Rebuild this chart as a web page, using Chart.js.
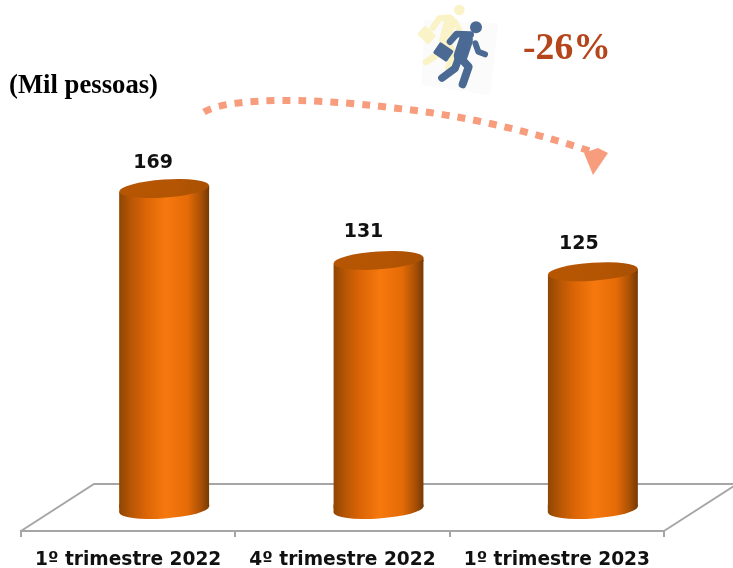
<!DOCTYPE html>
<html>
<head>
<meta charset="utf-8">
<style>html,body{margin:0;padding:0;background:#fff}canvas{display:block}</style>
<script src="https://cdn.jsdelivr.net/npm/chart.js@4"></script>
</head>
<body>
<canvas id="c" width="733" height="568"></canvas>
<script>
const categories = ['1º trimestre 2022', '4º trimestre 2022', '1º trimestre 2023'];
const values = [169, 131, 125];
const unitLabel = '(Mil pessoas)';
const changeLabel = '-26%';

const DEPTH = 0.168;            // 3D depth shift of the bars, in category units
const RX = 45, RY = 9, TILT = -0.068, BASE_DROP = 1.5;
const LABEL_DX = [-11, -15, -14], LABEL_DY = [-25.5, -28, -28];

function barGradient(ctx, x) {
  if (!Number.isFinite(x)) return '#e56b07';
  const g = ctx.createLinearGradient(x - RX, 0, x + RX, 0);
  g.addColorStop(0, '#8f4604');
  g.addColorStop(0.14, '#b95705');
  g.addColorStop(0.3, '#dc6506');
  g.addColorStop(0.52, '#f6790e');
  g.addColorStop(0.76, '#e56b07');
  g.addColorStop(0.9, '#ad5205');
  g.addColorStop(1, '#763904');
  return g;
}

function drawRunner(c) {
  c.save();
  c.translate(400, 0);
  c.scale(1 / 3, 1 / 3);
  c.lineCap = 'round';
  c.lineJoin = 'round';
  c.fillStyle = '#fbfbfb';
  c.beginPath();
  c.moveTo(72, 60); c.lineTo(295, 70); c.lineTo(270, 285); c.lineTo(65, 255);
  c.closePath(); c.fill();

  const limb = (color, w, pts) => {
    c.strokeStyle = color; c.lineWidth = w;
    c.beginPath();
    pts.forEach((p, i) => i ? c.lineTo(p[0], p[1]) : c.moveTo(p[0], p[1]));
    c.stroke();
  };
  const box = (color, x, y, w, h, a) => {
    c.save(); c.translate(x, y); c.rotate(a);
    c.fillStyle = color; c.beginPath();
    c.roundRect(-w / 2, -h / 2, w, h, 5); c.fill(); c.restore();
  };

  const pale = '#fbf3c8';
  c.fillStyle = pale;
  c.beginPath(); c.arc(178, 30, 16, 0, 7); c.fill();
  limb(pale, 36, [[150, 64], [135, 125]]);
  limb(pale, 19, [[148, 52], [118, 55], [98, 84]]);
  limb(pale, 17, [[165, 65], [178, 88]]);
  limb(pale, 20, [[130, 128], [118, 160], [78, 186]]);
  limb(pale, 20, [[138, 122], [160, 155], [145, 205]]);
  box(pale, 80, 105, 46, 36, 0.75);

  const blue = '#4a6a94';
  c.fillStyle = blue;
  c.beginPath(); c.arc(228, 82, 18, 0, 7); c.fill();
  limb(blue, 42, [[198, 120], [182, 168]]);
  limb(blue, 20, [[150, 125], [170, 102], [212, 104]]);
  limb(blue, 18, [[226, 130], [235, 155], [255, 163]]);
  limb(blue, 23, [[175, 178], [165, 205], [126, 234]]);
  limb(blue, 24, [[182, 175], [206, 200], [188, 253]]);
  box(blue, 130, 156, 50, 40, 0.6);
  c.restore();
}

function drawArrow(c) {
  const salmon = '#f79c7c';
  c.save();
  c.strokeStyle = salmon;
  c.lineWidth = 7;
  c.setLineDash([8, 8]);
  c.beginPath();
  c.moveTo(204, 112);
  c.bezierCurveTo(225, 99, 300, 96, 394, 108);
  c.quadraticCurveTo(490, 118, 590, 151);
  c.stroke();
  c.setLineDash([]);
  c.fillStyle = salmon;
  c.beginPath();
  c.moveTo(584, 153); c.lineTo(598, 148); c.lineTo(608, 153); c.lineTo(593, 175);
  c.closePath(); c.fill();
  c.restore();
}

const cylinders = {
  id: 'cylinders',
  beforeDatasetsDraw(chart) {
    const c = chart.ctx, a = chart.chartArea;
    const back = a.bottom - 47, shift = 73;
    const bars = chart.getDatasetMeta(0).data;
    const rise = RX * Math.sin(-TILT);
    // floor of the 3D chart, in front of which the bars stand
    c.save();
    c.strokeStyle = '#a6a6a6';
    c.lineWidth = 2;
    c.beginPath();
    c.moveTo(a.left, a.bottom);
    c.lineTo(a.left + shift, back);
    c.lineTo(733, back);
    c.moveTo(a.right, a.bottom);
    c.lineTo(a.right + shift, back);
    c.stroke();
    // bottom caps, behind the bars: full ellipse so no seam shows under them
    bars.forEach(bar => {
      const cy = bar.base + BASE_DROP;
      c.fillStyle = barGradient(c, bar.x);
      c.beginPath();
      c.ellipse(bar.x, cy, RX, RY, TILT, 0, Math.PI * 2);
      c.fill();
      c.beginPath();
      c.moveTo(bar.x - RX, cy + rise);
      c.lineTo(bar.x + RX, cy - rise);
      c.lineTo(bar.x + RX, cy - rise - 2);
      c.lineTo(bar.x - RX, cy - rise - 2);
      c.closePath();
      c.fill();
    });
    c.restore();
    // bars end along the tilted axes of their top and bottom ellipses
    c.save();
    c.beginPath();
    bars.forEach(bar => {
      const cy = bar.base + BASE_DROP;
      c.moveTo(bar.x - RX, bar.y + rise);
      c.lineTo(bar.x + RX, bar.y - rise);
      c.lineTo(bar.x + RX, cy - rise);
      c.lineTo(bar.x - RX, cy + rise);
      c.closePath();
    });
    c.clip();
  },
  afterDatasetsDraw(chart) {
    const c = chart.ctx;
    c.restore();
    const rise = RX * Math.sin(-TILT);
    chart.getDatasetMeta(0).data.forEach((bar, i) => {
      c.save();
      // sliver closing the bar's right edge up to the tilted ellipse
      c.fillStyle = barGradient(c, bar.x);
      c.beginPath();
      c.moveTo(bar.x + RX - 12, bar.y);
      c.lineTo(bar.x + RX, bar.y - rise);
      c.lineTo(bar.x + RX, bar.y + 1);
      c.lineTo(bar.x + RX - 12, bar.y + 1);
      c.closePath();
      c.fill();
      const g = c.createLinearGradient(bar.x - RX, 0, bar.x + RX, 0);
      g.addColorStop(0, '#b65603');
      g.addColorStop(0.6, '#b45503');
      g.addColorStop(1, '#a85003');
      c.fillStyle = g;
      c.beginPath();
      c.ellipse(bar.x, bar.y, RX, RY, TILT, 0, Math.PI * 2);
      c.fill();
      c.fillStyle = '#111';
      c.font = 'bold 19px "DejaVu Sans"';
      c.textAlign = 'center';
      c.textBaseline = 'middle';
      c.fillText(String(values[i]), bar.x + LABEL_DX[i], bar.y + LABEL_DY[i]);
      c.restore();
    });
  },
  afterDraw(chart) {
    const c = chart.ctx;
    drawArrow(c);
    drawRunner(c);
    c.save();
    c.textBaseline = 'middle';
    c.textAlign = 'left';
    c.fillStyle = '#000';
    c.font = 'bold 26.7px "Liberation Serif"';
    c.fillText(unitLabel, 9, 86);
    c.fillStyle = '#b5451b';
    c.font = 'bold 37.7px "Liberation Serif"';
    c.fillText(changeLabel, 523, 49);
    c.restore();
  }
};

new Chart(document.getElementById('c'), {
  type: 'bar',
  data: {
    labels: categories,
    datasets: [{
      data: values.map((v, i) => ({ x: i, y: v })),
      xAxisID: 'xDepth',
      yAxisID: 'y',
      barThickness: 90,
      backgroundColor: ctx => barGradient(ctx.chart.ctx,
        ctx.chart.scales.xDepth.getPixelForValue(ctx.dataIndex)),
      borderWidth: 0
    }]
  },
  options: {
    responsive: false,
    animation: false,
    layout: { padding: { left: 21, right: 69, top: 130, bottom: 0 } },
    plugins: { legend: { display: false }, tooltip: { enabled: false } },
    scales: {
      x: {
        type: 'category',
        position: 'bottom',
        afterFit: s => { s.height = 37; },
        grid: { drawOnChartArea: false, drawTicks: true, tickLength: 6, color: '#a6a6a6', lineWidth: 2 },
        border: { display: true, color: '#a6a6a6', width: 2 },
        ticks: {
          autoSkip: false, maxRotation: 0, padding: 12, color: '#111',
          font: { family: '"DejaVu Sans"', size: 18.6, weight: 'bold' }
        }
      },
      xDepth: {
        type: 'linear',
        display: false,
        offset: false,
        min: -0.5 - DEPTH,
        max: 2.5 - DEPTH
      },
      y: {
        display: false,
        min: -12.2,
        max: 200
      }
    }
  },
  plugins: [cylinders]
});
</script>
</body>
</html>
